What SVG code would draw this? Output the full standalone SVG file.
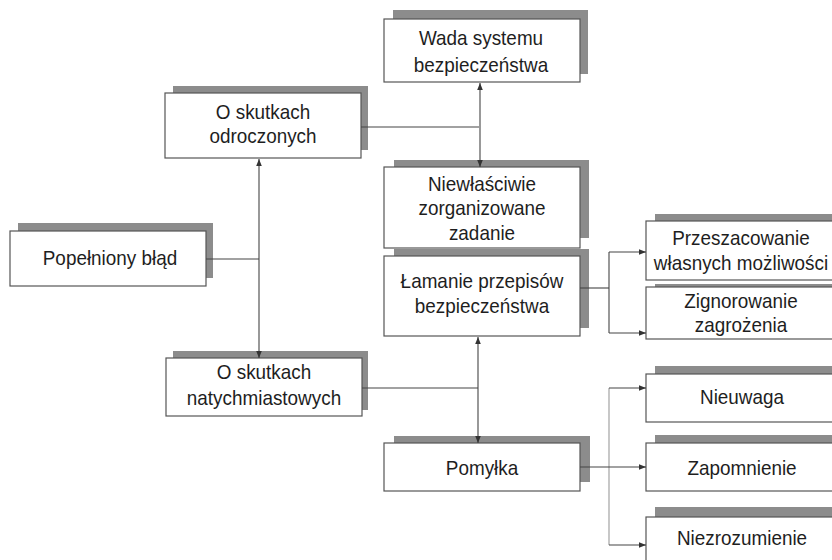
<svg xmlns="http://www.w3.org/2000/svg" width="832" height="560" viewBox="0 0 832 560">
<defs>
<style>
.sh{fill:#8c8c8c}
.bx{fill:#fff;stroke:#555;stroke-width:1.2}
.t{font-family:"Liberation Sans",Arial,sans-serif;font-size:21px;fill:#1e1e1e;text-anchor:middle}
.ln{stroke:#444;stroke-width:1.1;fill:none}
.lg{stroke:#9a9a9a;stroke-width:1.1;fill:none}
</style>
<marker id="ah" viewBox="0 0 10 10" refX="10" refY="5" markerWidth="7" markerHeight="7" markerUnits="userSpaceOnUse" orient="auto-start-reverse">
<path d="M0,1 L10,5 L0,9 z" fill="#333"/>
</marker>
</defs>
<rect width="832" height="560" fill="#fff"/>
<g id="wada">
<rect class="sh" x="393" y="10" width="195" height="64"/>
<rect class="bx" x="384" y="19" width="196" height="63"/>
<text class="t" transform="translate(481,45) scale(0.9,1)">Wada systemu</text>
<text class="t" transform="translate(481,72) scale(0.9,1)">bezpieczeństwa</text>
</g>
<g id="odroczonych">
<rect class="sh" x="173" y="86" width="195" height="64"/>
<rect class="bx" x="165" y="93" width="196" height="65"/>
<text class="t" transform="translate(263,119) scale(0.9,1)">O skutkach</text>
<text class="t" transform="translate(263,143) scale(0.9,1)">odroczonych</text>
</g>
<g id="popelniony">
<rect class="sh" x="18" y="223" width="195" height="55"/>
<rect class="bx" x="10" y="231" width="196" height="55"/>
<text class="t" transform="translate(110,265) scale(0.9,1)">Popełniony błąd</text>
</g>
<g id="natychmiastowych">
<rect class="sh" x="173" y="351" width="195" height="59"/>
<rect class="bx" x="166" y="358" width="196" height="58"/>
<text class="t" transform="translate(264,379) scale(0.9,1)">O skutkach</text>
<text class="t" transform="translate(264,405) scale(0.9,1)">natychmiastowych</text>
</g>
<g id="niewlasciwie">
<rect class="sh" x="394" y="160" width="195" height="78"/>
<rect class="bx" x="384" y="167" width="196" height="81"/>
<text class="t" transform="translate(482,191) scale(0.9,1)">Niewłaściwie</text>
<text class="t" transform="translate(482,215) scale(0.9,1)">zorganizowane</text>
<text class="t" transform="translate(482,240) scale(0.9,1)">zadanie</text>
</g>
<g id="lamanie">
<rect class="sh" x="394" y="249" width="195" height="79"/>
<rect class="bx" x="384" y="256" width="196" height="80"/>
<text class="t" transform="translate(482,288) scale(0.9,1)">Łamanie przepisów</text>
<text class="t" transform="translate(482,313) scale(0.9,1)">bezpieczeństwa</text>
</g>
<g id="pomylka">
<rect class="sh" x="394" y="436" width="196" height="46"/>
<rect class="bx" x="384" y="443" width="196" height="48"/>
<text class="t" transform="translate(482,475) scale(0.9,1)">Pomyłka</text>
</g>
<g id="przeszacowanie">
<rect class="sh" x="655" y="214" width="200" height="58"/>
<rect class="bx" x="646" y="221" width="200" height="59"/>
<text class="t" transform="translate(741,245) scale(0.9,1)">Przeszacowanie</text>
<text class="t" transform="translate(741,270) scale(0.9,1)">własnych możliwości</text>
</g>
<g id="zignorowanie">
<rect class="sh" x="655" y="284" width="200" height="50"/>
<rect class="bx" x="646" y="287" width="200" height="52"/>
<text class="t" transform="translate(741,308) scale(0.9,1)">Zignorowanie</text>
<text class="t" transform="translate(741,332) scale(0.9,1)">zagrożenia</text>
</g>
<g id="nieuwaga">
<rect class="sh" x="655" y="366" width="200" height="50"/>
<rect class="bx" x="646" y="374" width="200" height="48"/>
<text class="t" transform="translate(742,404) scale(0.9,1)">Nieuwaga</text>
</g>
<g id="zapomnienie">
<rect class="sh" x="655" y="435" width="200" height="50"/>
<rect class="bx" x="646" y="443" width="200" height="48"/>
<text class="t" transform="translate(742,475) scale(0.9,1)">Zapomnienie</text>
</g>
<g id="niezrozumienie">
<rect class="sh" x="655" y="507" width="200" height="50"/>
<rect class="bx" x="646" y="517" width="200" height="50"/>
<text class="t" transform="translate(742,545) scale(0.9,1)">Niezrozumienie</text>
</g>
<g id="connectors">
<line class="ln" x1="206" y1="259" x2="259" y2="259"/>
<line class="ln" x1="259" y1="159" x2="259" y2="358" marker-start="url(#ah)" marker-end="url(#ah)"/>
<line class="ln" x1="361" y1="127" x2="479" y2="127"/>
<line class="ln" x1="362" y1="388" x2="478" y2="388"/>
<line class="ln" x1="480" y1="83" x2="480" y2="167" marker-start="url(#ah)" marker-end="url(#ah)"/>
<line class="ln" x1="478" y1="337" x2="478" y2="443" marker-start="url(#ah)" marker-end="url(#ah)"/>
<line class="ln" x1="580" y1="288" x2="609" y2="288"/>
<line class="ln" x1="609" y1="252" x2="609" y2="333"/>
<line class="ln" x1="609" y1="252" x2="646" y2="252" marker-end="url(#ah)"/>
<line class="ln" x1="609" y1="333" x2="646" y2="333" marker-end="url(#ah)"/>
<line class="lg" x1="609" y1="388" x2="609" y2="545"/>
<line class="ln" x1="609" y1="388" x2="646" y2="388" marker-end="url(#ah)"/>
<line class="ln" x1="609" y1="545" x2="646" y2="545" marker-end="url(#ah)"/>
<line class="ln" x1="580" y1="467" x2="646" y2="467" marker-end="url(#ah)"/>
</g>
</svg>
